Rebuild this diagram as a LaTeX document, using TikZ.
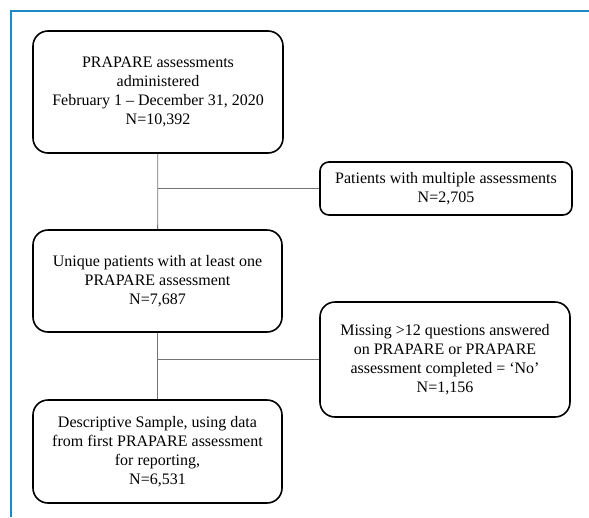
\documentclass[tikz,border=0pt]{standalone}
\usepackage{fontspec}
\setmainfont{Liberation Serif}
\usetikzlibrary{calc}
\definecolor{frameblue}{RGB}{30,136,200}
\tikzset {
    flow box/.style = {draw, line width = 1.6pt, rounded corners = 15pt, align = center,
        font = \fontsize{16}{19}\selectfont, inner sep = 2pt},
    side box/.style = {flow box, rounded corners = 9pt},
    link/.style = {draw = black!55, line width = 0.8pt},
    frame line/.style = {draw = frameblue, line width = 2.2pt}
}
\begin{document}
\begin{tikzpicture}[x = 1pt, y = -1pt]
    \useasboundingbox (0, 0) rectangle (589, 517);
    \draw [frame line] (11, 517) -- (11, 11) -- (589, 11);
    %
    \node (assessed) [flow box, minimum width = 250pt, minimum height = 122pt] at (158, 92)
        {PRAPARE assessments\\administered\\February 1 -- December 31, 2020\\N=10,392};
    \node (multiple) [side box, minimum width = 252pt, minimum height = 53pt] at (446, 188.5)
        {Patients with multiple assessments\\N=2,705};
    \node (unique) [flow box, minimum width = 249pt, minimum height = 102pt] at (157.5, 281)
        {Unique patients with at least one\\PRAPARE assessment\\N=7,687};
    \node (missing) [flow box, minimum width = 250pt, minimum height = 115pt] at (445, 359.5)
        {Missing >12 questions answered\\on PRAPARE or PRAPARE\\assessment completed = `No'\\N=1,156};
    \node (sample) [flow box, minimum width = 249pt, minimum height = 103pt] at (157.5, 451.5)
        {Descriptive Sample, using data\\from first PRAPARE assessment\\for reporting,\\N=6,531};
    %
    \draw [link] (assessed) -- (unique);
    \draw [link] (unique) -- (sample);
    \draw [link] (multiple.west -| assessed.south) -- (multiple.west);
    \draw [link] (missing.west -| unique.south) -- (missing.west);
\end{tikzpicture}
\end{document}
